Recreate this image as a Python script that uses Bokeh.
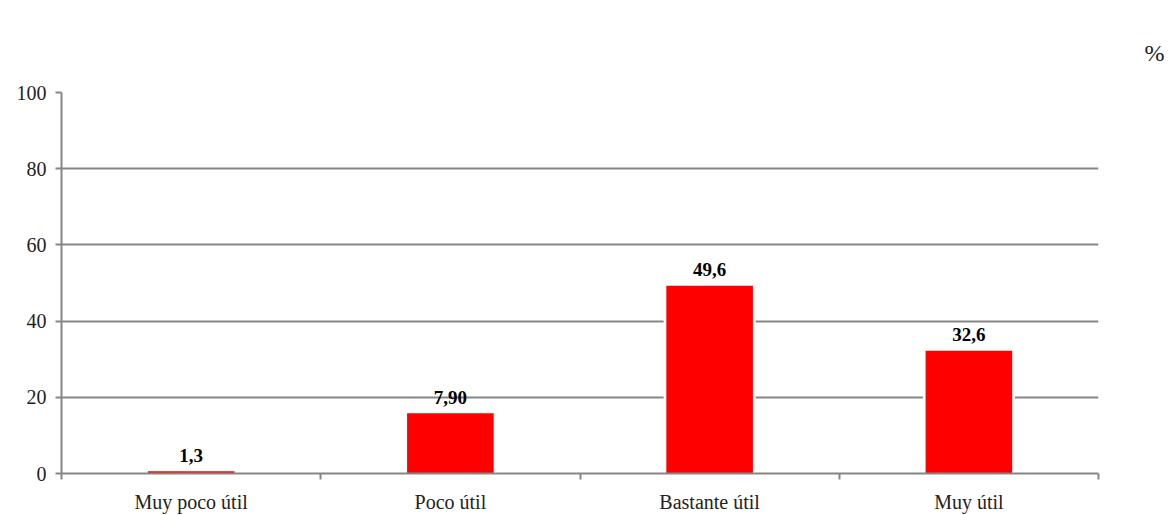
from bokeh.plotting import figure
from bokeh.models import ColumnDataSource, FixedTicker, Range1d, Title
from bokeh.core.properties import value
from bokeh.embed import file_html
from bokeh.resources import INLINE

categories = ["Muy poco útil", "Poco útil", "Bastante útil", "Muy útil"]
values = [0.6, 15.8, 49.3, 32.2]
value_labels = ["1,3", "7,90", "49,6", "32,6"]
y_ticks = [0, 20, 40, 60, 80, 100]

FONT = "Liberation Serif"
GRID = "#868686"
W, H = 1166, 515
F_LEFT, F_RIGHT, F_TOP, F_BOTTOM = 61, 1098, 92, 475
PX_PER_UNIT = (F_BOTTOM - F_TOP) / 100.0
LABEL_GAP_PX = 16

xs = [i + 0.5 for i in range(len(categories))]
label_y = [v + LABEL_GAP_PX / PX_PER_UNIT for v in values]
src = ColumnDataSource(dict(x=xs, top=values, lab=value_labels, ly=label_y))

p = figure(width=W, height=H, output_backend="svg", toolbar_location=None,
           x_range=Range1d(0, len(categories)), y_range=Range1d(0, 100),
           min_border_left=F_LEFT, min_border_right=W - F_RIGHT, min_border_top=F_TOP,
           min_border_bottom=H - F_BOTTOM)
p.outline_line_color = None
p.background_fill_color = "white"
p.border_fill_color = "white"

# "%" unit marker at the top right (negative offset moves a right-aligned title right)
p.add_layout(Title(text="%", align="right", offset=-(W - F_RIGHT - 2), standoff=54,
                   text_font=FONT, text_font_size="24px", text_font_style="normal",
                   text_color="#222222"), "above")

# grid
p.xgrid.visible = False
p.ygrid.ticker = FixedTicker(ticks=y_ticks)
p.ygrid.grid_line_color = GRID
p.ygrid.grid_line_width = 2

# y axis
p.yaxis.ticker = FixedTicker(ticks=y_ticks)
p.yaxis.axis_line_color = GRID
p.yaxis.axis_line_width = 2
p.yaxis.major_tick_line_color = GRID
p.yaxis.major_tick_line_width = 2
p.yaxis.major_tick_out = 6
p.yaxis.major_tick_in = 0
p.yaxis.minor_tick_line_color = None
p.yaxis.major_label_text_font = FONT
p.yaxis.major_label_text_font_size = "20px"
p.yaxis.major_label_text_color = "#222222"
p.yaxis.major_label_standoff = 9

# x axis: labels at centres, tick marks at boundaries
p.xaxis.ticker = FixedTicker(ticks=xs, minor_ticks=list(range(len(categories) + 1)))
p.xaxis.major_label_overrides = {x: c for x, c in zip(xs, categories)}
p.xaxis.axis_line_color = GRID
p.xaxis.axis_line_width = 2
p.xaxis.major_tick_line_color = None
p.xaxis.major_tick_out = 0
p.xaxis.major_tick_in = 0
p.xaxis.minor_tick_line_color = GRID
p.xaxis.minor_tick_line_width = 2
p.xaxis.minor_tick_out = 6
p.xaxis.minor_tick_in = 0
p.xaxis.major_label_text_font = FONT
p.xaxis.major_label_text_font_size = "20px"
p.xaxis.major_label_text_color = "#222222"
p.xaxis.major_label_standoff = 11

# white halo behind bars, then red bars
p.vbar(x="x", top="top", bottom=0, width=0.355, source=src,
       fill_color="white", line_color=None)
p.vbar(x="x", top="top", bottom=0, width=0.334, source=src,
       fill_color="#FF0000", line_color=None)

p.text(x="x", y="ly", text="lab", source=src, text_align="center",
       text_baseline="alphabetic",
       text_font=value(FONT), text_font_style="bold",
       text_font_size="19px", text_color="black")

open("out.html", "w").write(file_html(p, INLINE))
